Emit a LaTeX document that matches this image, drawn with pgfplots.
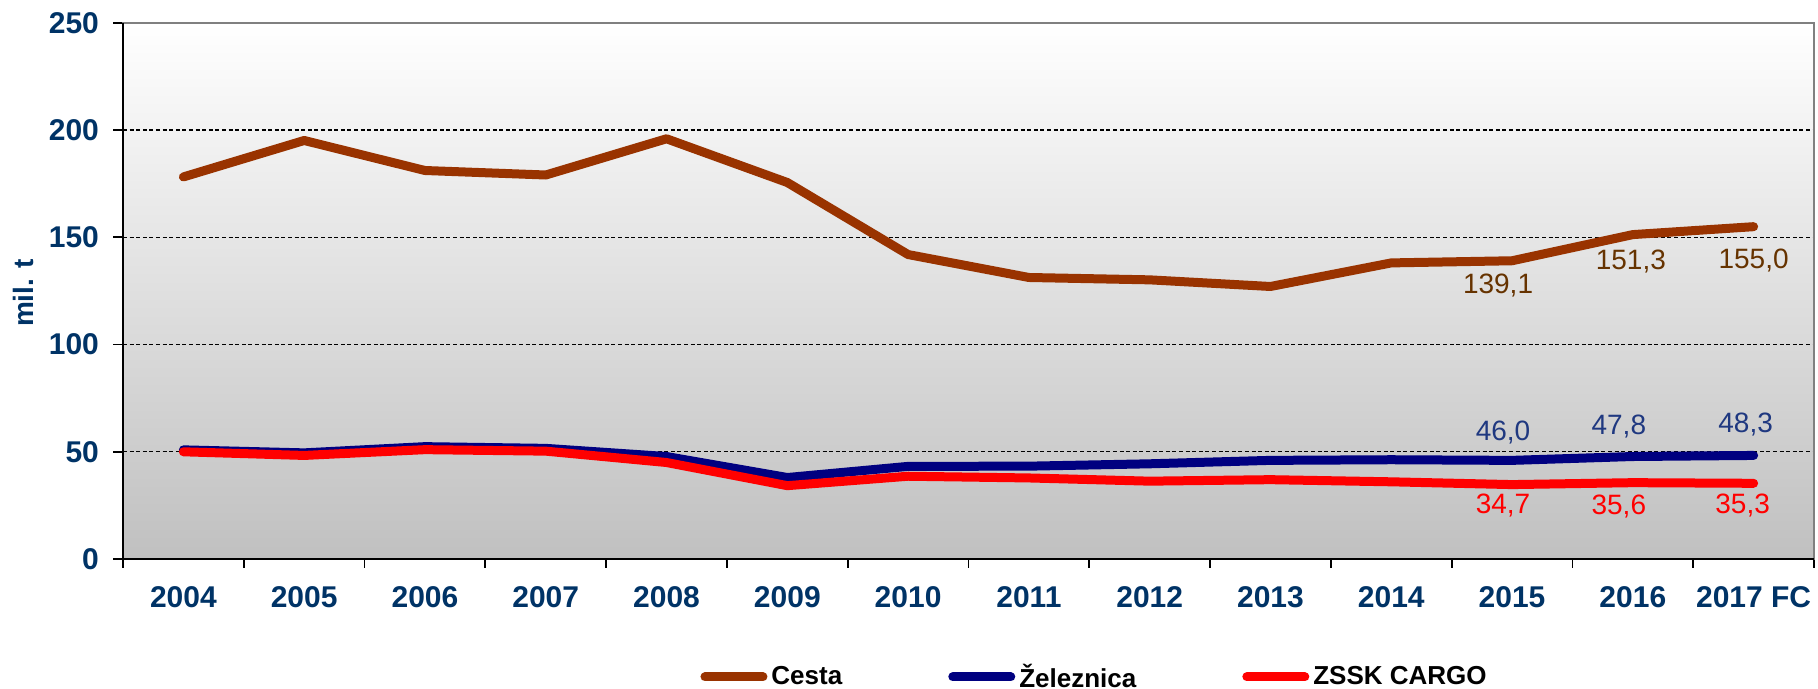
\documentclass[border=0pt]{standalone}
\usepackage{fontspec}
\setmainfont{Liberation Sans}
\usepackage{pgfplots}
\pgfplotsset{compat=1.18}
\usepackage{pgfplotstable}
\definecolor{cesta}{RGB}{153,51,0}
\definecolor{zel}{RGB}{0,0,128}
\definecolor{zssk}{RGB}{255,0,0}
\definecolor{tickblue}{RGB}{0,51,102}
\definecolor{labbrown}{RGB}{102,51,0}
\definecolor{labblue}{RGB}{31,56,128}
\definecolor{bgbottom}{RGB}{192,192,192}

\pgfplotstableread{
x cesta zel zssk
0 178.2 50.9 50.0
1 195.2 49.5 48.3
2 181.2 52.4 51.0
3 179.1 51.6 50.3
4 196.0 47.8 45.0
5 175.6 38.0 34.2
6 142.0 43.2 38.6
7 131.3 43.3 37.8
8 130.2 44.4 36.3
9 127.1 46.0 37.0
10 138.1 46.3 36.0
11 139.1 46.0 34.7
12 151.3 47.8 35.6
13 155.0 48.3 35.3
}\data

\pgfplotstableread{
x y lab dx dy
11 139.1 139,1 -7 -12.5
12 151.3 151,3 -1 -13.7
13 155.0 155,0 0 -16.7
}\labcesta

\pgfplotstableread{
x y lab dx dy
11 46.0 46,0 -4.5 14
12 47.8 47,8 -7 14.8
13 48.3 48,3 -4 15.7
}\labzel

\pgfplotstableread{
x y lab dx dy
11 34.7 34,7 -4.5 -10.7
12 35.6 35,6 -7 -11.7
13 35.3 35,3 -5.5 -11.3
}\labzssk

\begin{document}
\begin{tikzpicture}
\useasboundingbox (-61.5pt,-65pt) rectangle (847.5pt,279.5pt);
\begin{axis}[
  at={(0pt,0pt)}, anchor=south west,
  scale only axis, width=845.5pt, height=268pt,
  xmin=-0.5, xmax=13.5, ymin=0, ymax=250,
  xtick={0,...,13},
  xticklabels={2004,2005,2006,2007,2008,2009,2010,2011,2012,2013,2014,2015,2016,2017 FC},
  minor xtick={-0.5,0.5,...,13.5},
  ytick={0,50,...,250},
  tick pos=left,
  tick align=outside,
  major x tick style={draw=none},
  minor x tick style={black, line width=0.9pt},
  y tick style={black, line width=0.9pt},
  major tick length=5pt, minor tick length=4.5pt,
  ymajorgrids,
  grid style={black, line width=0.7pt, dash pattern=on 2pt off 1.3pt},
  axis background/.style={top color=white, bottom color=bgbottom},
  axis line style={gray, line width=0.9pt},
  ticklabel style={font=\bfseries\fontsize{15}{18}\selectfont, text=tickblue},
  xticklabel style={yshift=-5pt},
  yticklabel style={xshift=-3.5pt},
  /pgf/number format/assume math mode=true,
  legend style={at={(0.3377,-0.2201)}, anchor=west, draw=none, fill=none,
    font=\bfseries\fontsize{13}{15}\selectfont,
    /tikz/every even column/.append style={column sep=51pt}},
  legend columns=3,
  legend image code/.code={\draw[#1, line cap=round, line width=4.5pt] (2pt,0pt) -- (31pt,0pt);},
  clip=false,
]
\addplot[cesta, line width=4.5pt, line cap=round, line join=round] table[x=x, y=cesta] {\data};
\addlegendentry{Cesta}
\addplot[zel, line width=4.5pt, line cap=round, line join=round] table[x=x, y=zel] {\data};
\addlegendentry{Železnica}
\addplot[zssk, line width=4.5pt, line cap=round, line join=round] table[x=x, y=zssk] {\data};
\addlegendentry{ZSSK CARGO}

\addplot[draw=none, forget plot, nodes near coords, point meta=explicit symbolic,
  visualization depends on={\thisrow{dx} \as \dx},
  visualization depends on={\thisrow{dy} \as \dy},
  every node near coord/.append style={anchor=center, xshift=\dx pt, yshift=\dy pt,
    text=labbrown, font=\fontsize{14}{16}\selectfont}]
  table[x=x, y=y, meta=lab] {\labcesta};
\addplot[draw=none, forget plot, nodes near coords, point meta=explicit symbolic,
  visualization depends on={\thisrow{dx} \as \dx},
  visualization depends on={\thisrow{dy} \as \dy},
  every node near coord/.append style={anchor=center, xshift=\dx pt, yshift=\dy pt,
    text=labblue, font=\fontsize{14}{16}\selectfont}]
  table[x=x, y=y, meta=lab] {\labzel};
\addplot[draw=none, forget plot, nodes near coords, point meta=explicit symbolic,
  visualization depends on={\thisrow{dx} \as \dx},
  visualization depends on={\thisrow{dy} \as \dy},
  every node near coord/.append style={anchor=center, xshift=\dx pt, yshift=\dy pt,
    text=zssk, font=\fontsize{14}{16}\selectfont}]
  table[x=x, y=y, meta=lab] {\labzssk};
\end{axis}
\draw[black, line width=1.2pt] (current axis.north west) -- (current axis.south west) -- (current axis.south east);
\node[rotate=90, font=\bfseries\fontsize{14}{16}\selectfont, text=tickblue] at ([xshift=-50pt, yshift=133pt]current axis.south west) {mil. t};
\end{tikzpicture}
\end{document}
